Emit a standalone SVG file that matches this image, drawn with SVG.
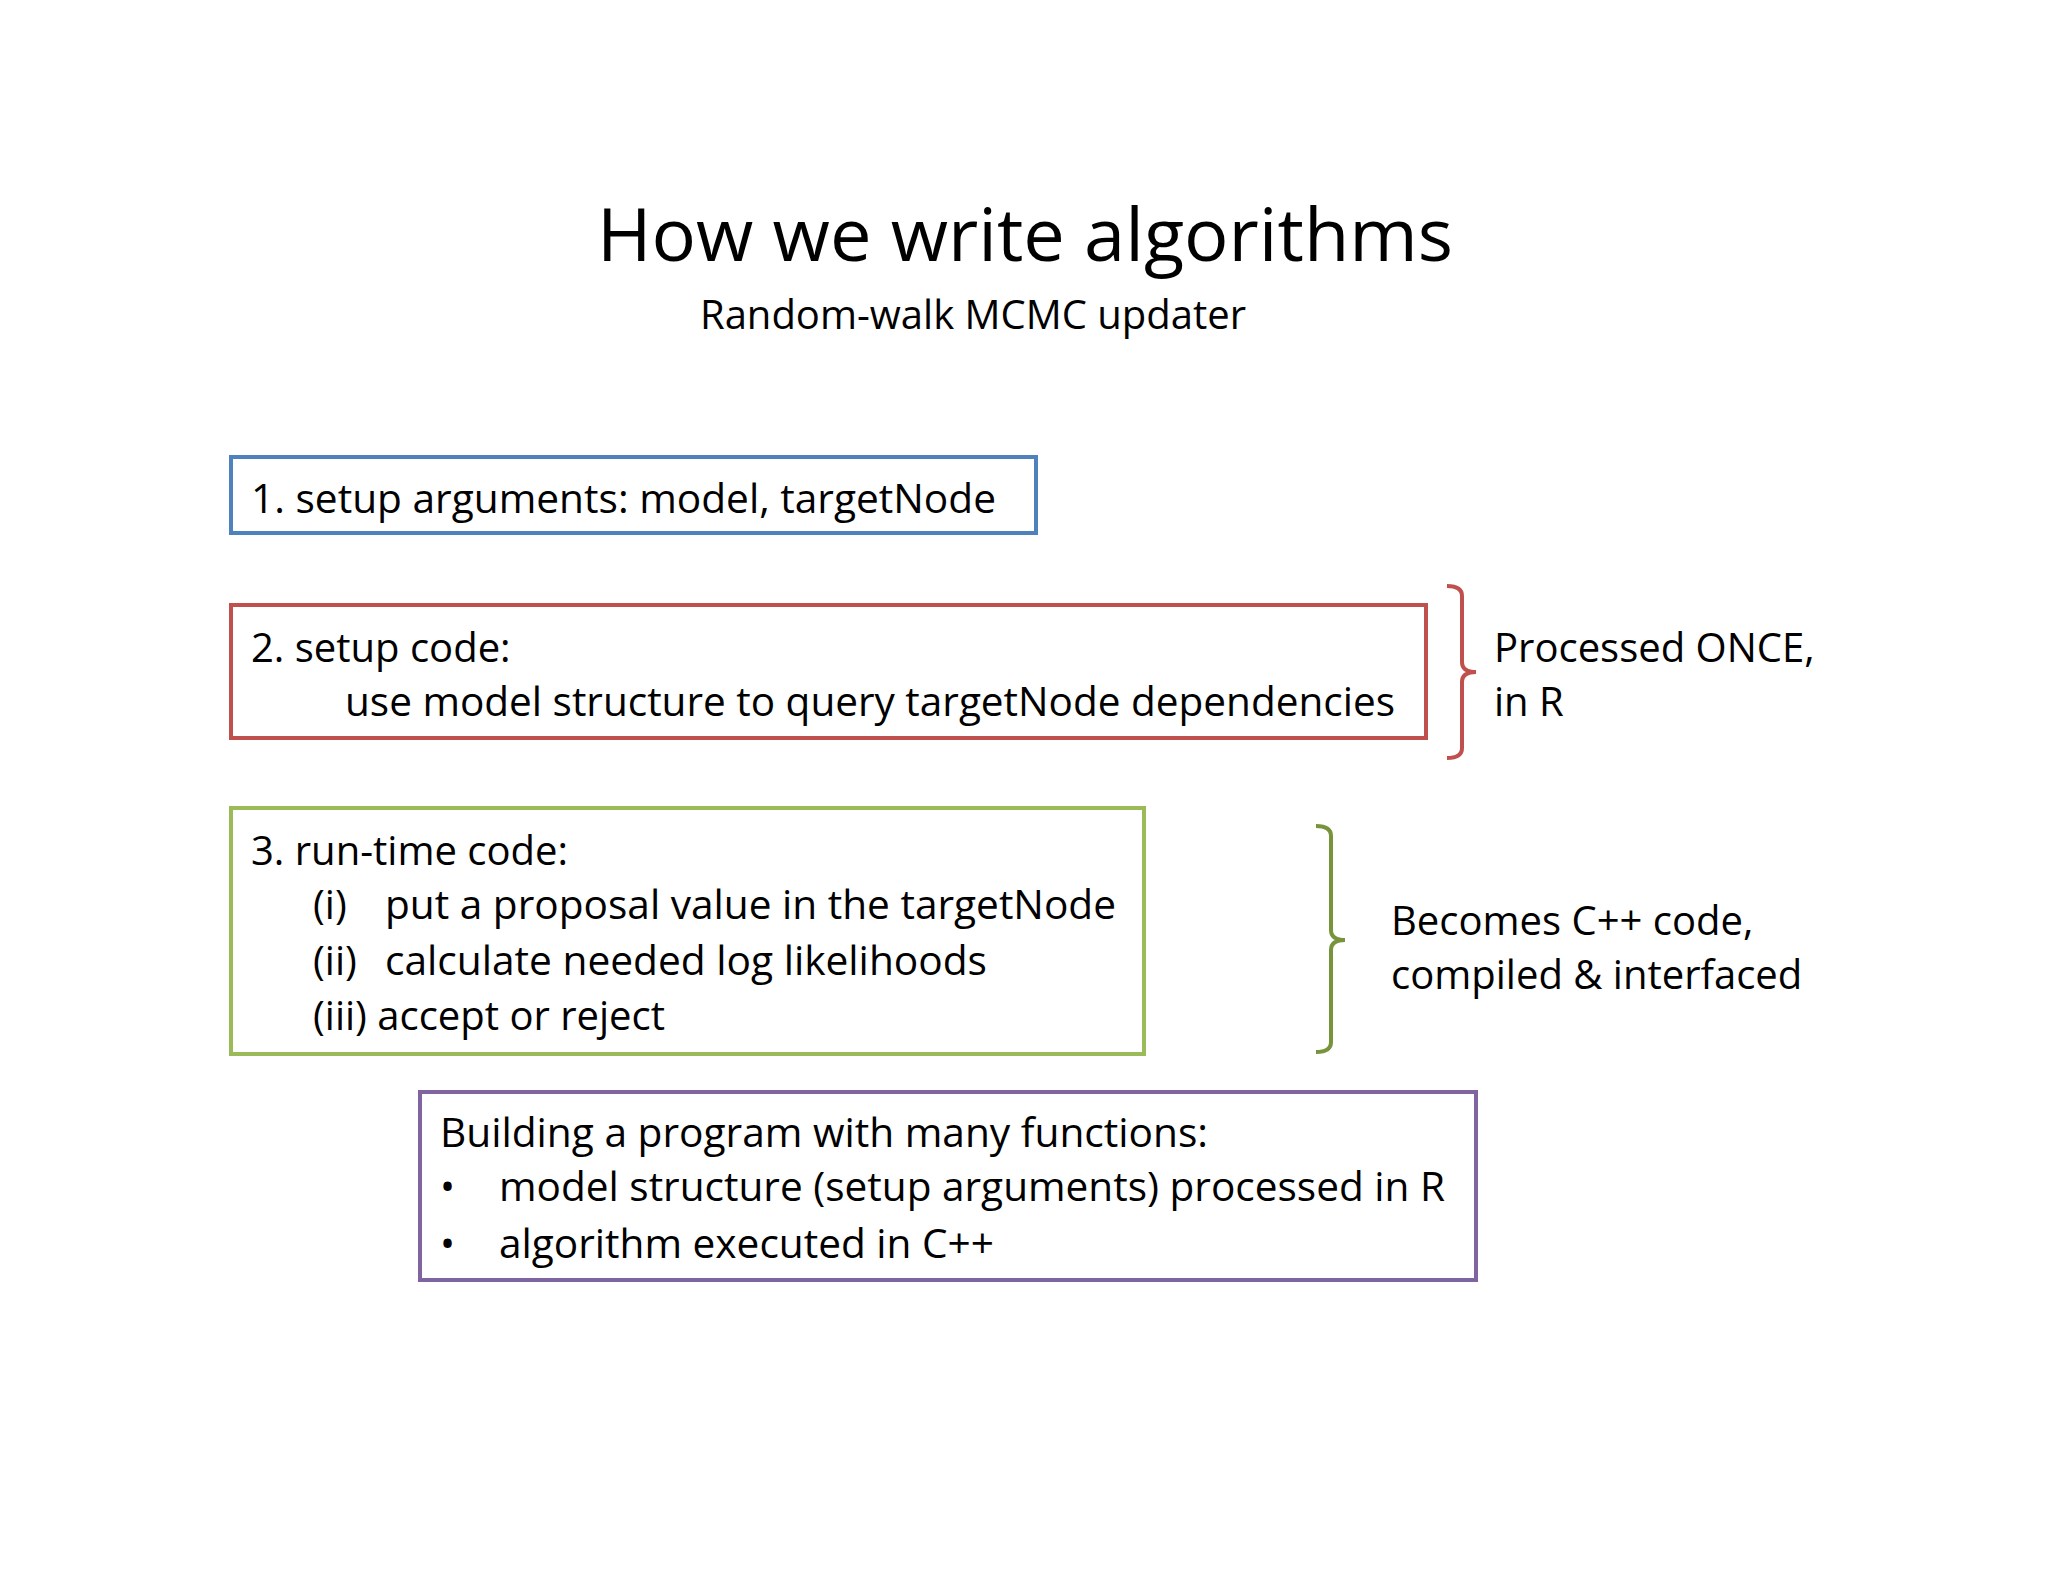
<svg xmlns="http://www.w3.org/2000/svg" width="2048" height="1582" viewBox="0 0 2048 1582">
<style>
text{font-family:"Open Sans","Liberation Sans",sans-serif;fill:#000;font-size:40px}
.box{fill:none;stroke-width:4}
.br{fill:none;stroke-width:4}
</style>
<rect width="2048" height="1582" fill="#fff"/>
<text x="1025" y="261" text-anchor="middle" style="font-size:74px">How we write algorithms</text>
<text x="973" y="329" text-anchor="middle" style="font-size:40px">Random-walk MCMC updater</text>
<g id="box1"><rect class="box" x="231" y="457" width="805" height="76" stroke="#4f81bd"/>
<text x="251" y="513" textLength="745" lengthAdjust="spacingAndGlyphs">1. setup arguments: model, targetNode</text></g>
<g id="box2"><rect class="box" x="231" y="605" width="1195" height="133" stroke="#c0504d"/>
<text x="251" y="662">2. setup code:</text>
<text x="345" y="716" textLength="1050" lengthAdjust="spacingAndGlyphs">use model structure to query targetNode dependencies</text></g>
<g id="box3"><rect class="box" x="231" y="808" width="913" height="246" stroke="#9bbb59"/>
<text x="251" y="865">3. run-time code:</text>
<text x="313" y="919">(i)</text><text x="385" y="919" textLength="731" lengthAdjust="spacingAndGlyphs">put a proposal value in the targetNode</text>
<text x="313" y="975">(ii)</text><text x="385" y="975" textLength="602" lengthAdjust="spacingAndGlyphs">calculate needed log likelihoods</text>
<text x="313" y="1030">(iii) accept or reject</text></g>
<g id="box4"><rect class="box" x="420" y="1092" width="1056" height="188" stroke="#8064a2"/>
<text x="440" y="1147" textLength="768" lengthAdjust="spacingAndGlyphs">Building a program with many functions:</text>
<text x="440" y="1201">•</text><text x="499" y="1201" textLength="946" lengthAdjust="spacingAndGlyphs">model structure (setup arguments) processed in R</text>
<text x="440" y="1258">•</text><text x="499" y="1258" textLength="495" lengthAdjust="spacingAndGlyphs">algorithm executed in C++</text></g>
<g id="connectors">
<path class="br" stroke="#c0504d" d="M1447,586 Q1462,586 1462,596 L1462,662 Q1462,672 1476,672 Q1462,672 1462,682 L1462,748 Q1462,758 1447,758"/>
<path class="br" stroke="#77933c" d="M1316,826 Q1331,826 1331,836 L1331,930 Q1331,940 1345,940 Q1331,940 1331,950 L1331,1042 Q1331,1052 1316,1052"/>
</g>
<g id="labels">
<text x="1494" y="662">Processed ONCE,</text>
<text x="1494" y="716">in R</text>
<text x="1391" y="935">Becomes C++ code,</text>
<text x="1391" y="989">compiled &amp; interfaced</text>
</g>
</svg>
